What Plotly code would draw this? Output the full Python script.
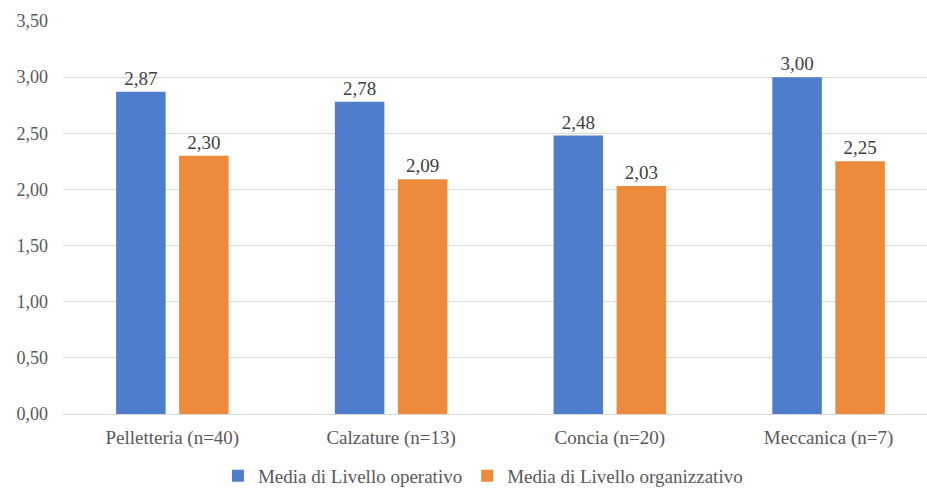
import plotly.graph_objects as go

categories = ["Pelletteria (n=40)", "Calzature (n=13)", "Concia (n=20)", "Meccanica (n=7)"]
operativo = [2.87, 2.78, 2.48, 3.00]
organizzativo = [2.30, 2.09, 2.03, 2.25]
series_names = ["Media di Livello operativo", "Media di Livello organizzativo"]
tick_vals = [0, 0.5, 1.0, 1.5, 2.0, 2.5, 3.0, 3.5]

FONT = "Liberation Serif"
label_font = dict(family=FONT, size=19, color="#404040")


def fmt(v):
    return f"{v:.2f}".replace(".", ",")


fig = go.Figure()
fig.add_trace(go.Bar(
    x=categories, y=operativo, name=series_names[0],
    marker=dict(color="#4e7ecb", line=dict(width=0)),
    text=[fmt(v) for v in operativo],
    textposition="outside", textfont=label_font, cliponaxis=False,
))
fig.add_trace(go.Bar(
    x=categories, y=organizzativo, name=series_names[1],
    marker=dict(color="#ee8a3b", line=dict(width=0)),
    text=[fmt(v) for v in organizzativo],
    textposition="outside", textfont=label_font, cliponaxis=False,
))

fig.update_layout(
    width=927, height=489,
    margin=dict(l=63, r=0, t=21, b=75),
    paper_bgcolor="white", plot_bgcolor="white",
    barmode="group", bargap=0.424, bargroupgap=0.214,
    separators=",.",
    font=dict(family=FONT, size=19, color="#595959"),
    showlegend=True,
    legend=dict(orientation="h", xref="container", yref="container",
                x=0.521, xanchor="center", y=0.027, yanchor="middle",
                font=dict(family=FONT, size=19, color="#595959"),
                itemwidth=30, tracegroupgap=0),
    xaxis=dict(range=[-0.5, 3.45], showline=True, linecolor="#d9d9d9", linewidth=1,
               ticks="", ticklabelstandoff=6,
               tickfont=dict(family=FONT, size=19, color="#595959")),
    yaxis=dict(range=[0, 3.5], tickvals=tick_vals, tickformat=".2f",
               showgrid=True, gridcolor="#d9d9d9", gridwidth=1,
               zeroline=True, zerolinecolor="#d9d9d9", zerolinewidth=1,
               showline=False, ticks="", ticklabelstandoff=14,
               tickfont=dict(family=FONT, size=18, color="#595959")),
)

fig.write_html("out.html")
